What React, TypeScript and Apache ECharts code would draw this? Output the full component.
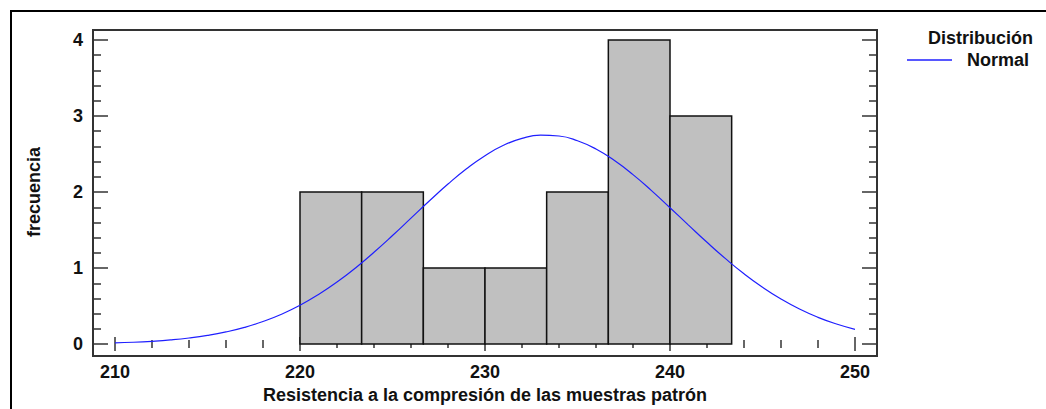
import React, { useEffect, useRef } from "react";
import * as echarts from "echarts";

const binStart = [220, 223.333, 226.667, 230, 233.333, 236.667, 240];
const binEnd = [223.333, 226.667, 230, 233.333, 236.667, 240, 243.333];
const counts = [2, 2, 1, 1, 2, 4, 3];

const curveX = [
  210, 211, 212, 213, 214, 215, 216, 217, 218, 219, 220, 221, 222, 223, 224,
  225, 226, 227, 228, 229, 230, 231, 232, 233, 234, 235, 236, 237, 238, 239,
  240, 241, 242, 243, 244, 245, 246, 247, 248, 249, 250,
];
const curveY = [
  0.016, 0.024, 0.037, 0.055, 0.08, 0.114, 0.16, 0.22, 0.297, 0.393, 0.511,
  0.652, 0.816, 1.002, 1.208, 1.428, 1.657, 1.885, 2.105, 2.306, 2.479, 2.615,
  2.706, 2.748, 2.737, 2.675, 2.566, 2.414, 2.229, 2.019, 1.794, 1.565, 1.339,
  1.124, 0.925, 0.748, 0.593, 0.461, 0.352, 0.264, 0.194,
];

const xTitle = "Resistencia a la compresión de las muestras patrón";
const yTitle = "frecuencia";
const legendTitle = "Distribución";
const seriesName = "Normal";

const FONT = "'Liberation Sans', Arial, sans-serif";
const TICK = "#333333";
const BLUE = "#1f1fff";

export default function App() {
  const ref = useRef<HTMLDivElement>(null);
  useEffect(() => {
    document.body.style.margin = "0";
    const chart = echarts.init(ref.current!, null, { renderer: "svg" });
    const labelStyle = {
      fontFamily: FONT,
      fontWeight: "bold" as const,
      fontSize: 18,
      color: "#111",
    };
    const tickLine = { color: TICK, width: 1.5 };
    const xCommon = {
      type: "value" as const,
      min: 210,
      max: 250,
      interval: 10,
      offset: 10,
      axisLine: { show: false },
      splitLine: { show: false },
      axisTick: { show: true, inside: true, length: 7, lineStyle: tickLine },
      minorTick: { show: true, splitNumber: 5, length: 4, lineStyle: tickLine },
    };
    const yCommon = {
      type: "value" as const,
      min: 0,
      max: 4,
      interval: 1,
      axisLine: { show: false },
      splitLine: { show: false },
      axisTick: { show: true, inside: true, length: 15, lineStyle: tickLine },
      minorTick: { show: true, splitNumber: 5, length: 8, lineStyle: tickLine },
    };
    chart.setOption({
      animation: false,
      backgroundColor: "#ffffff",
      grid: { left: 115, right: 191, top: 40, bottom: 63 },
      xAxis: [
        {
          ...xCommon,
          position: "bottom",
          axisLabel: { ...labelStyle, margin: 9 },
          name: xTitle,
          nameLocation: "middle",
          nameGap: 30,
          nameTextStyle: { ...labelStyle },
        },
        { ...xCommon, position: "top", axisLabel: { show: false } },
      ],
      yAxis: [
        {
          ...yCommon,
          position: "left",
          offset: 22,
          axisLabel: { ...labelStyle, margin: 10 },
          name: yTitle,
          nameLocation: "middle",
          nameGap: 50,
          nameRotate: 90,
          nameTextStyle: { ...labelStyle },
        },
        {
          ...yCommon,
          position: "right",
          offset: 22,
          axisLabel: { show: false },
        },
      ],
      legend: {
        data: [{ name: seriesName, icon: "rect" }],
        left: 907,
        top: 51,
        padding: 0,
        itemWidth: 45,
        itemHeight: 1.5,
        itemGap: 0,
        itemStyle: { color: BLUE, borderWidth: 0 },
        textStyle: { ...labelStyle, padding: [0, 0, 0, 10] },
      },
      graphic: [
        {
          type: "polyline",
          shape: { points: [[11, 409], [11, 11], [1046, 11]] },
          style: { stroke: "#000", lineWidth: 2, fill: null },
          silent: true,
        },
        {
          type: "rect",
          shape: { x: 93, y: 30, width: 784, height: 326 },
          style: { stroke: "#333", lineWidth: 2, fill: null },
          silent: true,
          z: 10,
        },
        {
          type: "text",
          left: 928,
          top: 29,
          style: {
            text: legendTitle,
            font: `bold 18px ${FONT}`,
            fill: "#111",
          },
        },
      ],
      series: [
        {
          type: "custom",
          name: "hist",
          xAxisIndex: 0,
          yAxisIndex: 0,
          data: counts.map((c, i) => [binStart[i], binEnd[i], c]),
          encode: { x: [0, 1], y: 2 },
          renderItem: (_params: any, api: any) => {
            const p0 = api.coord([api.value(0), api.value(2)]);
            const p1 = api.coord([api.value(1), 0]);
            return {
              type: "rect",
              shape: {
                x: p0[0],
                y: p0[1],
                width: p1[0] - p0[0],
                height: p1[1] - p0[1],
              },
              style: { fill: "#c0c0c0", stroke: "#111", lineWidth: 1.5 },
            };
          },
        },
        {
          type: "line",
          name: seriesName,
          xAxisIndex: 0,
          yAxisIndex: 0,
          data: curveX.map((x, i) => [x, curveY[i]]),
          smooth: true,
          symbol: "none",
          showSymbol: false,
          lineStyle: { color: BLUE, width: 1.2 },
          itemStyle: { color: BLUE },
          z: 5,
        },
      ],
    });
    return () => chart.dispose();
  }, []);
  return <div ref={ref} style={{ width: 1046, height: 409 }} />;
}
